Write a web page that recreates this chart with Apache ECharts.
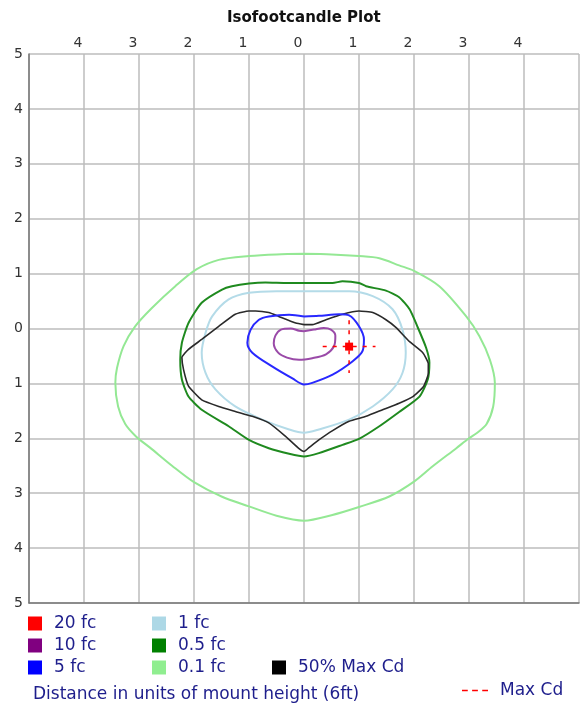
<!DOCTYPE html>
<html><head><meta charset="utf-8">
<script src="https://cdn.jsdelivr.net/npm/echarts@6/dist/echarts.min.js"></script>
<style>html,body{margin:0;padding:0;background:#fff}#c{width:583px;height:713px}</style>
</head><body><div id="c"></div>
<script>
// Axis range and ticks (distance in units of mount height)
const axisMin = -5, axisMax = 5, axisStep = 1;

// Contours: [x, y] in mount-height units (x: left/right, y: forward(+)/back(-))
const fc01 = [[0,1.36],[0.5,1.35],[1.0,1.32],[1.37,1.28],[1.73,1.15],[2.0,1.05],[2.46,0.77],[2.95,0.22],[3.19,-0.14],[3.38,-0.57],[3.47,-0.99],[3.44,-1.42],[3.32,-1.74],[3.15,-1.90],[3.0,-2.0],[2.77,-2.18],[2.34,-2.51],[2.0,-2.79],[1.55,-3.06],[1.0,-3.25],[0.5,-3.40],[0,-3.50],[-0.5,-3.41],[-1.0,-3.24],[-1.5,-3.06],[-2.0,-2.80],[-2.4,-2.50],[-2.8,-2.17],[-3.05,-1.97],[-3.25,-1.74],[-3.38,-1.42],[-3.43,-0.99],[-3.40,-0.72],[-3.28,-0.32],[-3.07,0.04],[-2.77,0.37],[-2.34,0.77],[-1.95,1.08],[-1.55,1.25],[-1.0,1.32],[-0.5,1.35],[0,1.36]];
const fc05 = [[0,0.83],[0.52,0.83],[0.70,0.86],[1.0,0.83],[1.13,0.77],[1.49,0.69],[1.73,0.57],[1.92,0.35],[2.06,0.04],[2.22,-0.35],[2.28,-0.62],[2.25,-0.93],[2.10,-1.24],[1.73,-1.52],[1.37,-1.78],[1.0,-2.01],[0.70,-2.12],[0.27,-2.27],[0,-2.33],[-0.27,-2.28],[-0.64,-2.18],[-1.0,-2.03],[-1.37,-1.78],[-1.86,-1.48],[-2.10,-1.24],[-2.22,-0.93],[-2.25,-0.57],[-2.22,-0.26],[-2.10,0.10],[-1.86,0.47],[-1.49,0.71],[-1.31,0.77],[-1.0,0.82],[-0.70,0.84],[-0.3,0.83],[0,0.83]];
const fc1 = [[0,0.68],[0.82,0.68],[1.25,0.59],[1.61,0.35],[1.79,-0.02],[1.85,-0.44],[1.79,-0.81],[1.61,-1.11],[1.25,-1.42],[0.82,-1.66],[0.27,-1.84],[0,-1.90],[-0.27,-1.84],[-0.76,-1.66],[-1.25,-1.42],[-1.61,-1.11],[-1.79,-0.81],[-1.86,-0.44],[-1.79,-0.08],[-1.67,0.22],[-1.37,0.53],[-1.0,0.65],[-0.5,0.68],[0,0.68]];
const fc5 = [[0,0.22],[0.27,0.23],[0.64,0.26],[0.82,0.24],[1.0,0.04],[1.09,-0.20],[1.06,-0.42],[0.88,-0.60],[0.52,-0.84],[0.15,-0.99],[0,-1.02],[-0.21,-0.91],[-0.58,-0.69],[-0.94,-0.44],[-1.03,-0.26],[-0.97,-0.02],[-0.82,0.16],[-0.64,0.22],[-0.27,0.25],[0,0.22]];
const fc10 = [[0,-0.05],[0.18,-0.02],[0.36,0.01],[0.49,-0.02],[0.57,-0.13],[0.55,-0.31],[0.40,-0.47],[0.15,-0.54],[-0.09,-0.57],[-0.31,-0.53],[-0.47,-0.44],[-0.55,-0.27],[-0.52,-0.13],[-0.42,-0.02],[-0.24,0.00],[-0.09,-0.04],[0,-0.05]];
const cd50 = [[0,0.07],[0.15,0.07],[0.40,0.16],[0.70,0.26],[1.0,0.32],[1.25,0.29],[1.49,0.16],[1.67,0.02],[1.92,-0.24],[2.16,-0.44],[2.26,-0.64],[2.26,-0.82],[2.17,-1.06],[1.98,-1.24],[1.73,-1.36],[1.43,-1.48],[1.13,-1.60],[0.82,-1.69],[0.52,-1.86],[0.27,-2.03],[0.09,-2.17],[0,-2.24],[-0.09,-2.19],[-0.33,-1.97],[-0.64,-1.72],[-0.94,-1.60],[-1.25,-1.51],[-1.55,-1.42],[-1.86,-1.30],[-2.10,-1.05],[-2.19,-0.75],[-2.22,-0.53],[-2.10,-0.38],[-1.86,-0.20],[-1.55,0.04],[-1.25,0.26],[-1.0,0.32],[-0.88,0.32],[-0.64,0.29],[-0.46,0.22],[-0.15,0.10],[0,0.07]];
// Max candela point and half-length of its crosshair
const maxCd = [0.82, -0.33];
const maxCdHalf = 0.48;

const colors = {'20 fc':'#ff0000','10 fc':'#800080','5 fc':'#0000ff','1 fc':'#add8e6','0.5 fc':'#008000','0.1 fc':'#90ee90','50% Max Cd':'#000000','Max Cd':'#ff0000'};
const lineColors = {'10 fc':'#9a4aa8','5 fc':'#2828ff','1 fc':'#b4dbe8','0.5 fc':'#1f8a1f','0.1 fc':'#94e894','50% Max Cd':'#2a2a2a'};

const FONT = 'DejaVu Sans';
const TXT = '#1e1e8c';
const chart = echarts.init(document.getElementById('c'), null, {renderer:'canvas'});

function contour(name, data, width, smooth){
  return {name, type:'line', data, showSymbol:false, symbol:'none', smooth, animation:false,
    lineStyle:{color:lineColors[name], width}, itemStyle:{color:colors[name]}, z:3};
}
const absFmt = v => String(Math.abs(v));

const legendBase = {orient:'vertical', icon:'rect', itemWidth:14, itemHeight:14, itemGap:5, padding:0,
  textStyle:{fontFamily:FONT, fontSize:17, lineHeight:17, color:TXT, padding:[0,0,0,7]}, selectedMode:false};

chart.setOption({
  animation:false,
  title:[
    {text:'Isofootcandle Plot', left:222, top:6, textStyle:{fontFamily:FONT, fontWeight:'bold', fontSize:15, color:'#111'}},
    {text:'Distance in units of mount height (6ft)', left:28, top:681, textStyle:{fontFamily:FONT, fontWeight:'normal', fontSize:17, color:TXT}}
  ],
  grid:{left:29, top:54, width:550, height:549, containLabel:false},
  xAxis:[
    {type:'value', position:'top', min:axisMin, max:axisMax, interval:axisStep,
     axisLine:{show:false}, axisTick:{show:false},
     axisLabel:{formatter:v=> (v===axisMin||v===axisMax)?'':absFmt(v), fontFamily:FONT, fontSize:14, color:'#333', margin:4, padding:[0,12,0,0]},
     splitLine:{show:true, lineStyle:{color:'#bcbcbc', width:1.5}}},
    {type:'value', position:'bottom', min:axisMin, max:axisMax, interval:axisStep,
     axisLine:{show:true, onZero:false, lineStyle:{color:'#777', width:1.5}}, axisTick:{show:false}, axisLabel:{show:false}, splitLine:{show:false}}
  ],
  yAxis:{type:'value', min:axisMin, max:axisMax, interval:axisStep,
     axisLine:{show:true, onZero:false, lineStyle:{color:'#777', width:1.5}}, axisTick:{show:false},
     axisLabel:{formatter:absFmt, fontFamily:FONT, fontSize:14, color:'#333', margin:6},
     splitLine:{show:true, lineStyle:{color:'#bcbcbc', width:1.5}}},
  legend:[
    Object.assign({}, legendBase, {left:28, top:615, data:['20 fc','10 fc','5 fc']}),
    Object.assign({}, legendBase, {left:152, top:615, data:['1 fc','0.5 fc','0.1 fc']}),
    Object.assign({}, legendBase, {left:272, top:659, data:['50% Max Cd']}),
    Object.assign({}, legendBase, {left:462, top:682, icon:'path://M0,0H4V1H0Z M7,0H11V1H7Z M14,0H18V1H14Z', itemWidth:26, itemHeight:2, data:['Max Cd']})
  ],
  series:[
    contour('0.1 fc', fc01, 2, 0.3),
    contour('0.5 fc', fc05, 2, 0.2),
    contour('1 fc', fc1, 2, 0.3),
    contour('50% Max Cd', cd50, 1.6, 0.15),
    contour('5 fc', fc5, 2, 0.3),
    contour('10 fc', fc10, 2, 0.3),
    {name:'Max Cd', type:'line', symbol:'none', animation:false, z:4,
     data:[[maxCd[0]-maxCdHalf, maxCd[1]],[maxCd[0]+maxCdHalf, maxCd[1]]],
     lineStyle:{color:colors['Max Cd'], width:1.5, type:[4,6]}, itemStyle:{color:colors['Max Cd']}},
    {name:'Max Cd', type:'line', symbol:'none', animation:false, z:4,
     data:[[maxCd[0], maxCd[1]+maxCdHalf],[maxCd[0], maxCd[1]-maxCdHalf]],
     lineStyle:{color:colors['Max Cd'], width:1.5, type:[4,6]}, itemStyle:{color:colors['Max Cd']}},
    {name:'20 fc', type:'scatter', symbol:'rect', symbolSize:8, animation:false, z:5,
     data:[maxCd], itemStyle:{color:colors['20 fc'], opacity:1}}
  ]
});
</script></body></html>
